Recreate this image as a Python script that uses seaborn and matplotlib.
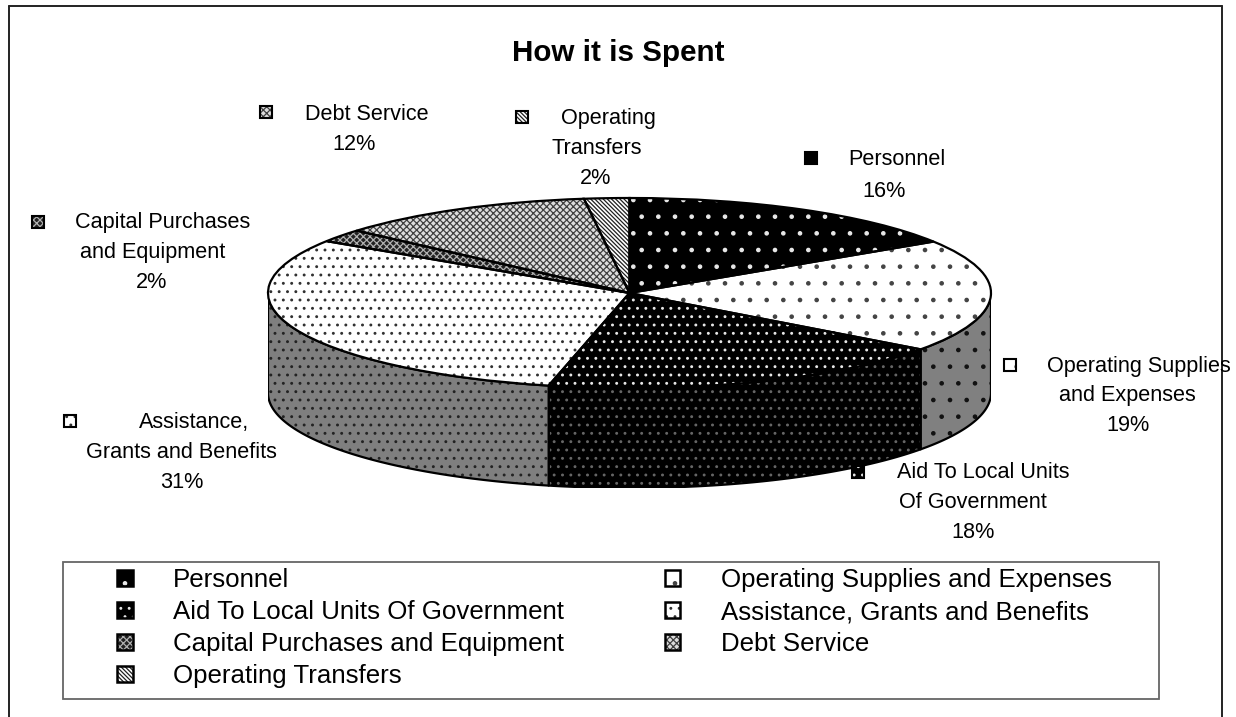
import numpy as np
import matplotlib
matplotlib.use('Agg')
import matplotlib.pyplot as plt
from matplotlib.legend_handler import HandlerTuple
from matplotlib.patches import Patch, Rectangle
import seaborn as sns

# Chart data, shares (labels show them rounded)
categories = ['Personnel', 'Operating Supplies and Expenses', 'Aid To Local Units Of Government',
              'Assistance, Grants and Benefits', 'Capital Purchases and Equipment',
              'Debt Service', 'Operating Transfers']
label_lines = [['Personnel'], ['Operating Supplies', 'and Expenses'], ['Aid To Local Units', 'Of Government'],
               ['Assistance,', 'Grants and Benefits'], ['Capital Purchases', 'and Equipment'],
               ['Debt Service'], ['Operating', 'Transfers']]
shares = [15.9, 19.2, 18.49, 30.6, 2.2, 11.6, 2.01]

# Pattern fills: face, hatch colour, hatch
faces = ['black', 'white', 'black', 'white', '#222222', '#dddddd', 'white']
inks = ['#e8e8e8', '#444444', '#e8e8e8', '#303030', '#b0b0b0', '#404040', '#202020']
hatches = ['.', '.', '..', '..', 'xxxxx', 'xxxxx', '\\' * 8]
side_faces = {1: '#808080', 2: 'black', 3: '#7f7f7f'}
side_inks = {1: '#111111', 2: '#666666', 3: '#222222'}

W, H = 1236, 717
sns.set_theme(style='white')
plt.rcParams['font.family'] = ['Liberation Sans', 'DejaVu Sans']
plt.rcParams['hatch.linewidth'] = 0.9

fig = plt.figure(figsize=(W / 100, H / 100), dpi=100, facecolor='white')

def px_box(x0, y0, x1, y1):
    return [x0 / W, 1 - y1 / H, (x1 - x0) / W, (y1 - y0) / H]

def fx(x):
    return x / W

def fy(y):
    return 1 - y / H

# Outer chart border, open at the bottom of the image
for xs, ys in [((9, 9), (717, 6)), ((9, 1222), (6, 6)), ((1222, 1222), (6, 717))]:
    fig.add_artist(plt.Line2D([fx(v) for v in xs], [fy(v) for v in ys], color='#222222', lw=1.4))

# Pie axes: the top ellipse fills y from 1 to -1, the wall hangs under it
depth = 100 / 95
ax = fig.add_axes(px_box(268, 198, 991, 488))
ax.set_axis_off()

# Sides first, only the parts that face the viewer
edges = np.cumsum([0] + shares) * 3.6
for i in side_faces:
    a0, a1 = edges[i], min(edges[i + 1], 270)
    lo = max(a0, 90)
    th = np.radians(np.linspace(lo, a1, 80))
    ax.fill_between(np.sin(th), np.cos(th) - depth, np.cos(th), facecolor=side_faces[i],
                    edgecolor=side_inks[i], hatch=hatches[i], linewidth=0)
    ax.fill_between(np.sin(th), np.cos(th) - depth, np.cos(th), facecolor='none',
                    edgecolor='black', linewidth=1.6)

# Top of the pie, pattern and then outlines
wedges, _ = ax.pie(shares, startangle=90, counterclock=False, radius=1, center=(0, 0),
                   wedgeprops={'linewidth': 0})
for w, fc, ink, h in zip(wedges, faces, inks, hatches):
    w.set_facecolor(fc)
    w.set_edgecolor(ink)
    w.set_hatch(h)
ax.pie(shares, startangle=90, counterclock=False, radius=1, center=(0, 0),
       colors=['none'] * len(shares), wedgeprops={'linewidth': 1.6, 'edgecolor': 'black'})
ax.set_aspect('auto')
ax.set_xlim(-1, 1)
ax.set_ylim(-1 - depth, 1)

# Title
fig.text(fx(618), fy(53), 'How it is Spent', ha='center', va='center', fontsize=21.3,
         fontweight='bold', color='black')

# Data labels with their small keys, each line placed on its own as in the original
line_x = [[897, 884], [1139, 1127, 1128], [983, 973, 973], [194, 181, 182], [163, 153, 152], [367, 354], [608, 597, 596]]
line_y = [[157, 189], [364, 393, 423], [470, 500, 530], [420, 450, 480], [220, 250, 280], [112, 142], [116, 146, 176]]
key_pos = [(811, 158), (1010, 365), (858, 472), (70, 421), (38, 222), (266, 112), (522, 117)]
for i, cat in enumerate(categories):
    lines = label_lines[i] + [f'{round(shares[i])}%']
    for text, x, y in zip(lines, line_x[i], line_y[i]):
        fig.text(fx(x), fy(y + 8), text, ha='center', va='baseline', fontsize=15.6, color='black')
    kx, ky = key_pos[i]
    fig.add_artist(Rectangle((fx(kx - 6), fy(ky + 6)), 12 / W, 12 / H, transform=fig.transFigure,
                             facecolor=faces[i], edgecolor=inks[i], hatch=hatches[i], linewidth=0))
    fig.add_artist(Rectangle((fx(kx - 6), fy(ky + 6)), 12 / W, 12 / H, transform=fig.transFigure,
                             facecolor='none', edgecolor='black', linewidth=1.5))

# Legend box and entries, filled column by column
fig.add_artist(Rectangle((fx(62.5), fy(699)), 1096.5 / W, 137 / H, transform=fig.transFigure,
                         facecolor='white', edgecolor='#666666', linewidth=1.3, zorder=0.5))
order = [0, 2, 4, 6, 1, 3, 5]
handles = [(Patch(facecolor=faces[i], edgecolor=inks[i], hatch=hatches[i], linewidth=0),
            Patch(facecolor='none', edgecolor='black', linewidth=1.8)) for i in order]
leg = fig.legend(handles=handles, labels=[categories[i] for i in order], ncols=2, frameon=False,
                 loc='upper left', bbox_to_anchor=(fx(117), fy(568)), borderaxespad=0, borderpad=0,
                 fontsize=18.65, handlelength=0.6, handleheight=0.6, handletextpad=1.57,
                 columnspacing=3.88, labelspacing=0.31, labelcolor='black',
                 handler_map={tuple: HandlerTuple(ndivide=1, pad=0)})

fig.savefig('out.png', dpi=100)
